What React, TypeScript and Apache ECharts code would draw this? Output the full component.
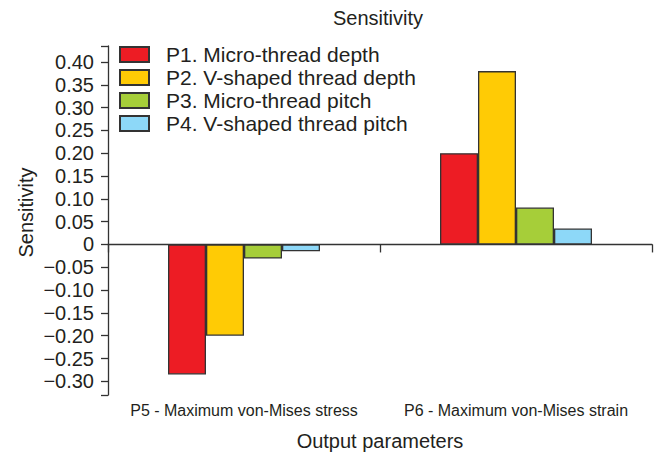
import React, { useEffect, useRef } from "react";
import * as echarts from "echarts";

const categories = ["P5 - Maximum von-Mises stress", "P6 - Maximum von-Mises strain"];
const seriesNames = [
  "P1. Micro-thread depth",
  "P2. V-shaped thread depth",
  "P3. Micro-thread pitch",
  "P4. V-shaped thread pitch",
];
const p1 = [-0.285, 0.2];
const p2 = [-0.2, 0.38];
const p3 = [-0.031, 0.081];
const p4 = [-0.015, 0.035];
const yLabelValues = [-0.3, -0.25, -0.2, -0.15, -0.1, -0.05, 0, 0.05, 0.1, 0.15, 0.2, 0.25, 0.3, 0.35, 0.4];
const yMin = -0.33;
const yMax = 0.435;
const colors = ["#ED1C24", "#FFCB05", "#A6CE39", "#8DD8F8"];

const FONT = "Liberation Sans, Arial, Helvetica, sans-serif";
const TEXT = "#231F20";
const AXIS = "#333333";

export default function App() {
  const ref = useRef<HTMLDivElement>(null);
  useEffect(() => {
    document.body.style.margin = "0";
    if (!ref.current) return;
    const chart = echarts.init(ref.current, undefined, { renderer: "svg" });
    const data = [p1, p2, p3, p4];
    chart.setOption({
      animation: false,
      textStyle: { fontFamily: FONT, color: TEXT },
      title: {
        text: "Sensitivity",
        left: 333,
        top: 8,
        padding: 0,
        textStyle: { fontFamily: FONT, fontSize: 20, fontWeight: "normal", color: TEXT },
      },
      legend: {
        orient: "vertical",
        left: 119,
        top: 44,
        padding: 0,
        itemWidth: 29,
        itemHeight: 15,
        itemGap: 2,
        icon: "rect",
        textStyle: { fontFamily: FONT, fontSize: 21, color: TEXT, padding: [0, 0, 0, 12] },
        data: seriesNames,
      },
      grid: { left: 108, right: 6, top: 46, bottom: 60, containLabel: false },
      xAxis: [
        {
          type: "category",
          data: categories,
          position: "bottom",
          axisLine: { show: false, onZero: false },
          axisTick: { show: false },
          axisLabel: { fontFamily: FONT, fontSize: 16, color: TEXT, margin: 7, interval: 0 },
          name: "Output parameters",
          nameLocation: "middle",
          nameGap: 36,
          nameTextStyle: { fontFamily: FONT, fontSize: 20, color: TEXT },
        },
        {
          type: "category",
          data: categories,
          position: "bottom",
          axisLine: { show: true, onZero: true, lineStyle: { color: AXIS, width: 1.3 } },
          axisTick: { show: true, length: 8, lineStyle: { color: AXIS, width: 1.3 } },
          axisLabel: { show: false },
        },
      ],
      yAxis: {
        type: "value",
        min: yMin,
        max: yMax,
        axisLine: { show: true, lineStyle: { color: AXIS, width: 1.3 } },
        axisTick: {
          show: true,
          length: 7,
          lineStyle: { color: AXIS, width: 1.3 },
          customValues: [yMin, ...yLabelValues, yMax],
        },
        splitLine: { show: false },
        axisLabel: {
          fontFamily: FONT,
          fontSize: 20,
          color: TEXT,
          margin: 14,
          customValues: yLabelValues,
          formatter: (v: number) => {
            if (Math.abs(v) < 1e-9) return "0";
            const s = Math.abs(v).toFixed(2);
            return v < 0 ? "\u2212" + s : s;
          },
        },
        name: "Sensitivity",
        nameLocation: "middle",
        nameGap: 72,
        nameMoveOverlap: false,
        nameTextStyle: { fontFamily: FONT, fontSize: 20, color: TEXT, padding: [0, 0, 0, 16] },
      },
      series: seriesNames.map((name, i) => ({
        name,
        type: "bar",
        xAxisIndex: 0,
        data: data[i],
        barWidth: 38,
        barGap: "0%",
        itemStyle: { color: colors[i], borderColor: AXIS, borderWidth: 1.3 },
      })),
    });
    return () => chart.dispose();
  }, []);
  return <div ref={ref} style={{ width: 658, height: 456 }} />;
}
